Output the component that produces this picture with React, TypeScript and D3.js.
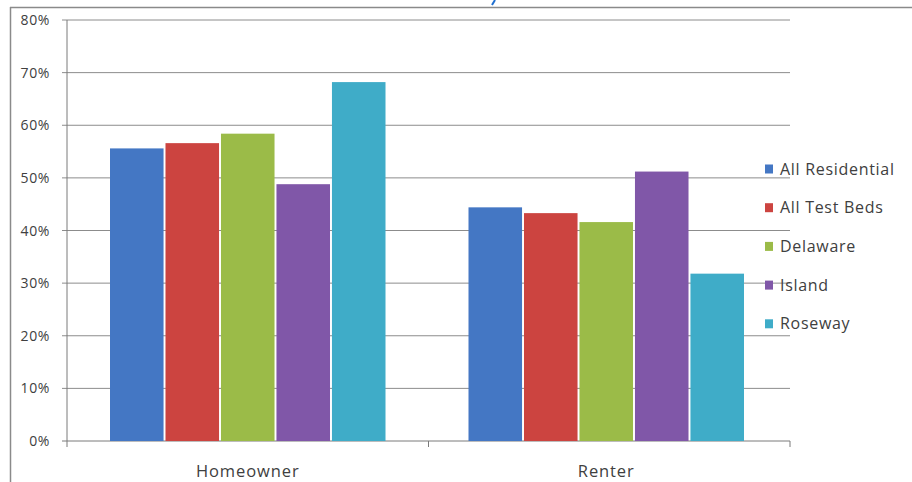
import React from "react";
import * as d3 from "d3";

const categories = ["Homeowner", "Renter"];
const seriesNames = ["All Residential", "All Test Beds", "Delaware", "Island", "Roseway"];
const homeownerValues = [0.556, 0.566, 0.584, 0.488, 0.682];
const renterValues = [0.444, 0.433, 0.416, 0.512, 0.318];
const yTicks = [0, 0.1, 0.2, 0.3, 0.4, 0.5, 0.6, 0.7, 0.8];
const colors = ["#4477C4", "#CC4440", "#9BBB48", "#8057A8", "#3FACC8"];

export default function App() {
  const W = 912, H = 482;
  const left = 67, right = 790, top = 20, bottom = 441;
  const y = d3.scaleLinear().domain([0, 0.8]).range([bottom, top]);
  const x0 = d3.scaleBand<string>().domain(categories).range([left, right]);
  const bw = x0.bandwidth();
  const gap = 43;
  const x1 = d3.scaleBand<string>().domain(seriesNames).range([gap, bw - gap]).paddingInner(0.035);
  const data = [homeownerValues, renterValues];
  const groupShift = [0, -3];
  const fmt = d3.format(".0%");
  const font = "'Open Sans', 'Liberation Sans', sans-serif";
  return (
    <svg width={W} height={H} style={{ position: "absolute", left: 0, top: 0, background: "#fff" }} fontFamily={font}>
      <rect x={0} y={0} width={W} height={H} fill="#fff" />
      <line x1={10} x2={W} y1={7.5} y2={7.5} stroke="#8a8a8a" strokeWidth={1.5} />
      <line x1={10.5} x2={10.5} y1={7} y2={H} stroke="#8a8a8a" strokeWidth={1.5} />
      <path d="M495,0 L492,5" stroke="#1F6FD0" strokeWidth={2} fill="none" />
      {yTicks.map((t) => (
        <g key={t}>
          <line x1={left - 5} x2={right} y1={y(t)} y2={y(t)} stroke={t === 0 ? "#7a7a7a" : "#8c8c8c"} strokeWidth={1} />
          <text x={50} y={y(t) + 5} fontSize={14} letterSpacing={0.6} textAnchor="end" fill="#404040">{fmt(t)}</text>
        </g>
      ))}
      <line x1={left} x2={left} y1={top} y2={bottom} stroke="#7a7a7a" />
      {[left, left + bw, right].map((px, i) => (
        <line key={i} x1={px} x2={px} y1={bottom} y2={bottom + 6} stroke="#7a7a7a" />
      ))}
      {categories.map((c, ci) => (
        <g key={c} transform={`translate(${(x0(c) as number) + groupShift[ci]},0)`}>
          {seriesNames.map((s, si) => (
            <rect key={s} x={x1(s)} y={y(data[ci][si])} width={x1.bandwidth()} height={bottom - y(data[ci][si])} fill={colors[si]} />
          ))}
          <text x={bw / 2} y={477} fontSize={16.5} letterSpacing={0.9} textAnchor="middle" fill="#404040">{c}</text>
        </g>
      ))}
      {seriesNames.map((s, si) => (
        <g key={s} transform={`translate(765,${169 + si * 38.7})`}>
          <rect x={0} y={-4.5} width={8} height={9} fill={colors[si]} />
          <text x={15} y={5.5} fontSize={16} letterSpacing={0.7} fill="#404040">{s}</text>
        </g>
      ))}
    </svg>
  );
}
